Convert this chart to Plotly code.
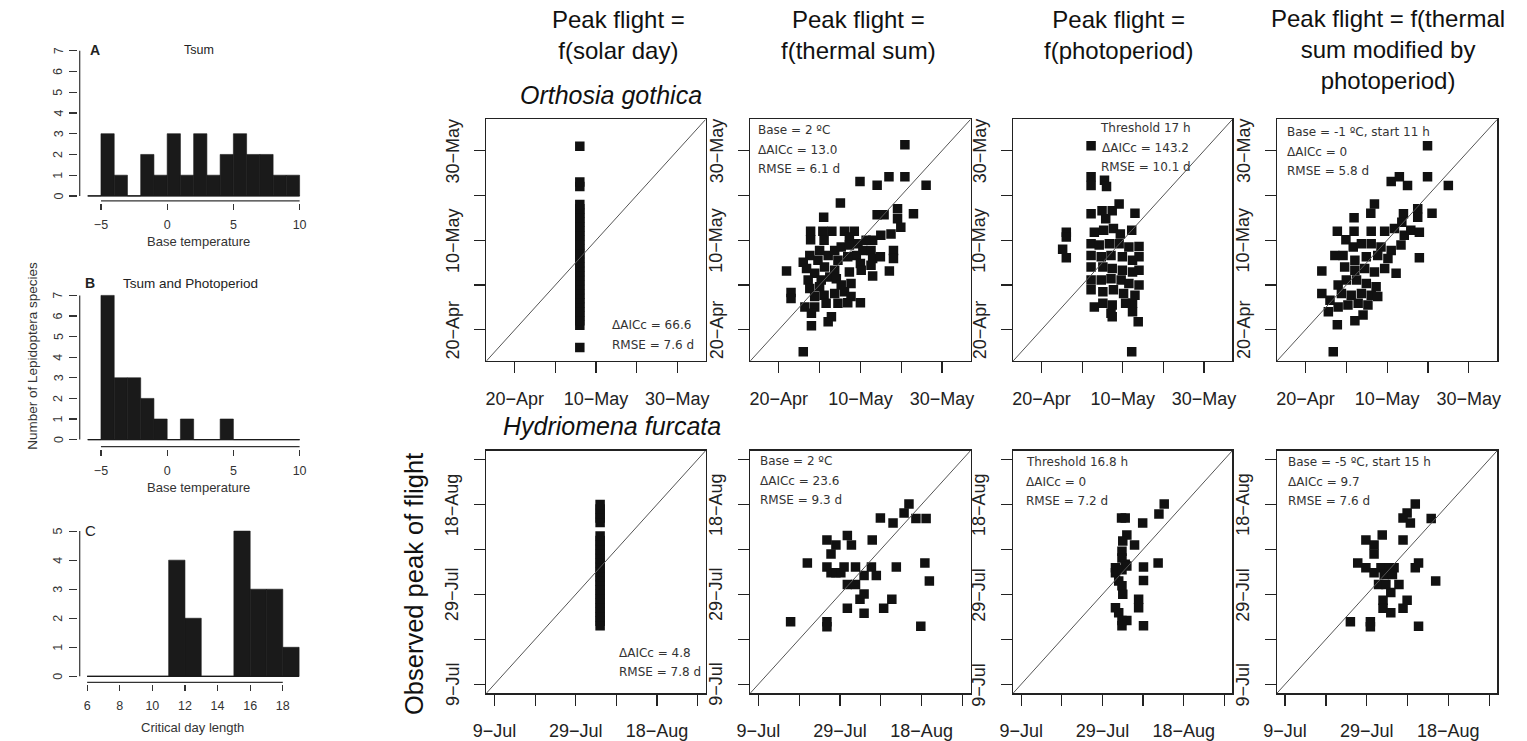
import plotly.graph_objects as go

W, H = 1527, 741

# ---------------- data ----------------
# Histograms: bin edges and counts (number of Lepidoptera species)
tsum_edges = [-6, -5, -4, -3, -2, -1, 0, 1, 2, 3, 4, 5, 6, 7, 8, 9, 10]
tsum_counts = [0, 3, 1, 0, 2, 1, 3, 1, 3, 1, 2, 3, 2, 2, 1, 1]
tsph_edges = [-6, -5, -4, -3, -2, -1, 0, 1, 2, 3, 4, 5, 6, 7, 8, 9, 10]
tsph_counts = [0, 7, 3, 3, 2, 1, 0, 1, 0, 0, 1, 0, 0, 0, 0, 0]
daylen_edges = [6, 7, 8, 9, 10, 11, 12, 13, 14, 15, 16, 17, 18, 19]
daylen_counts = [0, 0, 0, 0, 0, 4, 2, 0, 0, 5, 3, 3, 1]

temp_xticks = [-5, 0, 5, 10]
count7_yticks = [0, 1, 2, 3, 4, 5, 6, 7]
daylen_xticks = [6, 8, 10, 12, 14, 16, 18]
count5_yticks = [0, 1, 2, 3, 4, 5]

# day-of-year ticks
spring_ticks = [110, 120, 130, 140, 150]
spring_labels = ["20\u2212Apr", "", "10\u2212May", "", "30\u2212May"]
summer_ticks = [190, 200, 210, 220, 230, 240]
summer_labels = ["9\u2212Jul", "", "29\u2212Jul", "", "18\u2212Aug", ""]

# Orthosia gothica: (predicted, observed) day of year
og_solar = [(126, 106), (126, 111), (126, 112), (126, 113), (126, 114), (126, 115), (126, 116),
            (126, 117), (126, 118), (126, 119), (126, 120), (126, 121), (126, 122), (126, 123),
            (126, 124), (126, 125), (126, 126), (126, 127), (126, 128), (126, 129), (126, 130),
            (126, 131), (126, 132), (126, 133), (126, 134), (126, 135), (126, 136), (126, 137),
            (126, 138), (126, 142), (126, 143), (126, 151)]
og_tsum = [(140.9, 151.3), (129.9, 143.1), (134.1, 142.3), (137.0, 144.2), (140.9, 144.2),
           (146.1, 142.3), (125.1, 138.3), (121.0, 135.1), (143.0, 135.9), (134.1, 135.7),
           (135.8, 135.7), (139.1, 137.0), (139.1, 134.8), (139.9, 132.9), (137.5, 131.4),
           (135.0, 131.1), (133.0, 130.0), (131.4, 130.0), (117.8, 132.0), (117.8, 130.1),
           (120.8, 132.0), (121.1, 130.0), (123.0, 132.0), (126.1, 132.0), (128.5, 132.0),
           (127.3, 130.7), (117.6, 126.6), (116.0, 125.1), (119.6, 125.5), (122.1, 126.6),
           (123.7, 127.7), (125.3, 128.5), (127.3, 128.9), (129.4, 129.2), (130.6, 127.7),
           (132.6, 127.7), (129.0, 126.6), (126.9, 126.3), (124.5, 125.5), (130.0, 124.8),
           (133.0, 125.9), (134.9, 126.3), (138.1, 127.7), (138.1, 125.9), (132.6, 124.4),
           (130.2, 123.3), (127.3, 122.9), (123.7, 123.3), (121.2, 124.0), (118.8, 122.6),
           (117.2, 121.1), (120.4, 121.1), (122.5, 121.8), (133.0, 122.0), (137.1, 123.1),
           (111.9, 123.1), (117.6, 119.2), (120.0, 119.6), (124.1, 121.4), (125.3, 120.0),
           (127.7, 120.3), (118.8, 117.4), (121.1, 117.7), (123.7, 118.1), (126.1, 118.5),
           (127.7, 117.4), (130.0, 116.0), (113.0, 118.3), (113.0, 117.0), (116.4, 115.1),
           (118.8, 115.1), (121.6, 115.9), (124.5, 115.9), (126.9, 116.0), (118.0, 113.7),
           (122.9, 112.9), (122.1, 111.8), (118.0, 110.9), (116.0, 105.1), (120.0, 127.7),
           (116.8, 123.7)]
og_photo = [(122.2, 151.1), (122.2, 144.2), (122.2, 142.2), (125.5, 143.4), (126.0, 142.0),
            (129.1, 138.1), (133.0, 136.0), (116.1, 131.8), (116.1, 130.7), (115.2, 128.0),
            (116.1, 126.1), (132.2, 132.2), (134.0, 128.6), (134.0, 126.3), (134.0, 123.3),
            (134.0, 120.0), (132.4, 115.9), (132.4, 114.0), (133.8, 111.8), (132.2, 105.1),
            (123.0, 115.1), (127.1, 113.7), (122.2, 135.9), (124.9, 136.6), (127.4, 136.6),
            (125.8, 134.8), (123.0, 131.8), (125.3, 132.2), (127.7, 132.6), (129.4, 131.4),
            (122.2, 129.2), (124.2, 128.9), (126.7, 129.2), (129.1, 129.2), (131.5, 128.5),
            (122.2, 126.6), (124.7, 126.3), (127.1, 126.6), (129.9, 126.3), (132.4, 125.5),
            (122.2, 124.0), (125.1, 124.0), (127.4, 123.7), (129.9, 123.3), (132.4, 122.9),
            (122.2, 121.1), (124.7, 121.1), (127.1, 121.4), (129.6, 121.1), (131.5, 120.3),
            (122.2, 118.9), (125.1, 118.5), (127.7, 118.9), (130.2, 118.1), (133.0, 117.7),
            (125.1, 115.9), (127.4, 115.5), (130.7, 115.9), (127.4, 112.9)]
og_tsph = [(139.9, 151.1), (139.9, 144.2), (131.0, 143.1), (133.0, 144.2), (135.0, 142.2),
           (145.0, 142.2), (126.9, 138.1), (126.0, 136.0), (121.9, 135.0), (134.0, 135.9),
           (137.5, 137.0), (137.5, 135.1), (141.0, 136.0), (117.8, 132.0), (119.9, 130.1),
           (121.9, 132.0), (137.9, 126.1), (114.0, 123.1), (117.8, 111.1), (116.8, 105.1),
           (126.1, 132.0), (129.4, 132.0), (131.8, 132.6), (133.6, 134.0), (134.2, 131.1),
           (135.8, 132.2), (137.9, 131.8), (117.2, 126.6), (119.2, 126.6), (121.7, 128.5),
           (123.7, 129.2), (126.1, 129.2), (128.5, 128.5), (131.0, 127.7), (133.4, 128.9),
           (127.7, 126.6), (130.2, 125.9), (124.9, 126.3), (122.1, 125.5), (119.6, 124.0),
           (122.1, 123.3), (124.5, 123.7), (126.9, 122.9), (129.4, 123.7), (132.2, 122.6),
           (120.0, 121.1), (122.5, 121.1), (124.9, 120.3), (127.3, 119.6), (118.0, 120.0),
           (114.0, 118.1), (116.0, 116.6), (118.8, 118.1), (121.2, 117.7), (123.7, 118.1),
           (126.1, 117.7), (127.7, 117.4), (115.6, 114.0), (118.0, 115.1), (120.4, 115.5),
           (122.9, 115.9), (125.3, 115.5), (122.1, 112.0), (124.1, 113.3)]

# Hydriomena furcata: (predicted, observed) day of year
hf_solar = [(216, 203), (216, 204), (216, 205), (216, 206), (216, 207), (216, 208), (216, 209),
            (216, 210), (216, 211), (216, 212), (216, 213), (216, 214), (216, 215), (216, 216),
            (216, 217), (216, 218), (216, 219), (216, 220), (216, 221), (216, 222), (216, 223),
            (216, 226), (216, 227), (216, 228), (216, 229), (216, 230)]
hf_tsum = [(226.9, 230.1), (225.7, 228.1), (219.9, 227.0), (223.0, 225.9), (228.6, 226.9),
           (231.1, 226.9), (206.8, 222.1), (209.0, 221.0), (207.8, 219.0), (211.8, 223.1),
           (212.8, 221.0), (217.9, 222.1), (202.0, 217.0), (206.8, 216.1), (207.8, 214.8),
           (209.0, 214.8), (210.2, 214.8), (211.0, 216.1), (213.8, 216.1), (217.7, 216.1),
           (218.9, 214.2), (215.9, 214.2), (223.8, 216.1), (230.8, 217.0), (231.9, 213.0),
           (211.8, 212.2), (213.8, 212.2), (214.9, 208.9), (215.9, 210.1), (222.7, 208.9),
           (220.7, 206.9), (211.8, 206.9), (215.9, 205.8), (197.9, 203.9), (206.8, 203.9),
           (206.8, 202.8), (229.8, 202.9)]
hf_photo = [(225.2, 230.1), (223.9, 227.9), (214.7, 227.0), (215.6, 227.0), (219.9, 225.9),
            (216.0, 223.2), (215.0, 221.9), (217.9, 221.0), (214.8, 219.6), (214.8, 218.1),
            (215.6, 216.7), (213.2, 215.9), (213.2, 214.8), (214.8, 215.5), (216.0, 216.3),
            (223.7, 217.0), (220.1, 216.1), (220.1, 213.1), (214.0, 213.0), (214.8, 211.9),
            (215.0, 210.0), (218.9, 208.9), (218.9, 207.0), (213.2, 207.0), (214.0, 205.9),
            (214.8, 204.2), (216.0, 204.2), (214.8, 203.0), (220.1, 203.0)]
hf_tsph = [(221.9, 230.1), (219.9, 228.1), (218.9, 227.0), (220.7, 225.9), (225.8, 226.9),
           (213.8, 223.2), (209.8, 222.1), (211.8, 221.0), (211.8, 219.0), (218.9, 222.1),
           (207.8, 217.0), (209.8, 215.9), (211.8, 214.8), (213.5, 215.9), (215.5, 215.9),
           (216.7, 215.9), (214.3, 214.4), (216.3, 214.4), (222.7, 217.0), (221.9, 215.9),
           (226.9, 213.0), (212.9, 212.2), (214.7, 212.2), (217.9, 212.2), (215.9, 210.4),
           (214.0, 208.7), (214.0, 206.9), (215.9, 205.9), (218.9, 206.9), (219.9, 208.7),
           (206.0, 203.9), (210.9, 203.9), (210.9, 202.8), (222.7, 202.9)]

headers = ["Peak flight =<br>f(solar day)", "Peak flight =<br>f(thermal sum)",
           "Peak flight =<br>f(photoperiod)",
           "Peak flight = f(thermal<br>sum modified by<br>photoperiod)"]
og_texts = [["\u0394AICc = 66.6", "RMSE = 7.6 d"],
            ["Base = 2 \u00baC", "\u0394AICc = 13.0", "RMSE = 6.1 d"],
            ["Threshold 17 h", "\u0394AICc = 143.2", "RMSE = 10.1 d"],
            ["Base = -1 \u00baC, start 11 h", "\u0394AICc = 0", "RMSE = 5.8 d"]]
hf_texts = [["\u0394AICc = 4.8", "RMSE = 7.8 d"],
            ["Base = 2 \u00baC", "\u0394AICc = 23.6", "RMSE = 9.3 d"],
            ["Threshold 16.8 h", "\u0394AICc = 0", "RMSE = 7.2 d"],
            ["Base = -5 \u00baC, start 15 h", "\u0394AICc = 9.7", "RMSE = 7.6 d"]]

# ---------------- helpers ----------------
INK = "#1a1a1a"
TICKFONT = "Liberation Sans, Arial, sans-serif"
TEXTFONT = "DejaVu Sans, Open Sans, sans-serif"
PSIZE = 12

fig = go.Figure()
axes = {}


def lin(p, pa, va, pb, vb):
    return va + (p - pa) * (vb - va) / (pb - pa)


def suffix(n):
    return "" if n == 1 else str(n)


def dom_x(x0, x1):
    return [x0 / W, x1 / W]


def dom_y(top, bottom):
    return [1 - bottom / H, 1 - top / H]


def ann(text, xpx, ypx, size, xanchor="center", yanchor="middle", angle=0,
        color="#222", family=TICKFONT):
    fig.add_annotation(text=text, x=xpx / W, y=1 - ypx / H, xref="paper", yref="paper",
                       showarrow=False, xanchor=xanchor, yanchor=yanchor, textangle=angle,
                       font=dict(size=size, color=color, family=family))


def ytick_labels(s, xpx, vals, labels, size, color):
    # rotated (R style, las=0) y tick labels placed on the axis scale
    for v, t in zip(vals, labels):
        if t == "":
            continue
        fig.add_annotation(text=t, x=xpx / W, y=v, xref="paper", yref="y" + s,
                           showarrow=False, xanchor="center", yanchor="middle",
                           textangle=-90, font=dict(size=size, color=color, family=TICKFONT))


def add_hist(n, edges, counts, xticks, yticks, xdom, ydom, xref, yref, axis_px, yline_px):
    s = suffix(n)
    xr = [lin(xdom[0], *xref), lin(xdom[1], *xref)]
    yr = [lin(ydom[1], *yref), lin(ydom[0], *yref)]
    centers = [(edges[i] + edges[i + 1]) / 2 for i in range(len(counts))]
    widths = [edges[i + 1] - edges[i] for i in range(len(counts))]
    fig.add_trace(go.Bar(x=centers, y=counts, width=widths,
                         marker=dict(color=INK, line=dict(color=INK, width=0.6)),
                         xaxis="x" + s, yaxis="y" + s, hoverinfo="skip"))
    # zero baseline across all bins
    fig.add_trace(go.Scatter(x=[edges[0], edges[-1]], y=[0, 0], mode="lines",
                             line=dict(color=INK, width=1.3), xaxis="x" + s, yaxis="y" + s))
    # detached x axis line (R style)
    ya = lin(axis_px, *yref)
    fig.add_trace(go.Scatter(x=[xticks[0], xticks[-1]], y=[ya, ya], mode="lines",
                             line=dict(color="#333", width=1.2), xaxis="x" + s, yaxis="y" + s))
    xa = lin(yline_px, *xref)
    fig.add_trace(go.Scatter(x=[xa, xa], y=[yticks[0], yticks[-1]], mode="lines",
                             line=dict(color="#333", width=1.2), xaxis="x" + s, yaxis="y" + s))
    axes["xaxis" + s] = dict(domain=dom_x(*xdom), range=xr, anchor="y" + s, showgrid=False,
                             zeroline=False, showline=False, ticks="outside", ticklen=6,
                             tickwidth=1.2, tickcolor="#333", tickvals=xticks, tickangle=0,
                             tickfont=dict(size=12.5, color="#333", family=TICKFONT),
                             ticklabelstandoff=4)
    axes["yaxis" + s] = dict(domain=dom_y(*ydom), range=yr, anchor="x" + s, showgrid=False,
                             zeroline=False, showline=False, ticks="outside", ticklen=8,
                             tickwidth=1.2, tickcolor="#333", tickvals=yticks,
                             showticklabels=False)
    ytick_labels(s, 45, yticks, [str(v) for v in yticks], 12.5, "#333")


def add_panel(n, pts, xdom, ydom, rng, tickvals, ticktext):
    s = suffix(n)
    xs = [p[0] for p in pts]
    ys = [p[1] for p in pts]
    fig.add_trace(go.Scatter(x=xs, y=ys, mode="markers",
                             marker=dict(symbol="square", size=9.5, color="#111",
                                         line=dict(width=0)),
                             xaxis="x" + s, yaxis="y" + s, hoverinfo="skip"))
    fig.add_trace(go.Scatter(x=rng, y=rng, mode="lines", line=dict(color="#555", width=1),
                             xaxis="x" + s, yaxis="y" + s, hoverinfo="skip"))
    common = dict(range=rng, showgrid=False, zeroline=False, showline=True, mirror=True,
                  linecolor="#222", linewidth=1.3, ticks="outside", ticklen=11,
                  tickwidth=1.2, tickcolor="#222", tickvals=tickvals)
    axes["xaxis" + s] = dict(domain=dom_x(*xdom), anchor="y" + s, tickangle=0,
                             ticktext=ticktext, ticklabelstandoff=10,
                             tickfont=dict(size=18, color="#222", family=TICKFONT), **common)
    axes["yaxis" + s] = dict(domain=dom_y(*ydom), anchor="x" + s, showticklabels=False,
                             **common)
    ytick_labels(s, xdom[0] - 34, tickvals, ticktext, 18, "#222")


# ---------------- histograms ----------------
add_hist(1, tsum_edges, tsum_counts, temp_xticks, count7_yticks,
         (65, 292), (47, 204), (88, -5, 289, 10), (197, 0, 51, 7), 202, 66.5)
add_hist(2, tsph_edges, tsph_counts, temp_xticks, count7_yticks,
         (65, 292), (292, 451), (88, -5, 289, 10), (442, 0, 297, 7), 449, 66.5)
add_hist(3, daylen_edges, daylen_counts, daylen_xticks, count5_yticks,
         (65, 292), (530, 688), (74, 6, 272, 18), (680, 0, 534, 5), 686, 66.5)

ann("<b>A</b>", 82, 50, 14)
ann("Tsum", 187, 50, 12.5)
ann("<b>B</b>", 77, 285, 14)
ann("Tsum and Photoperiod", 179, 285, 13.5)
ann("C", 77, 533, 15)
ann("Base temperature", 187, 243, 13, color="#333")
ann("Base temperature", 187, 490, 13, color="#333")
ann("Critical day length", 181, 731, 13, color="#333")
ann("Number of Lepidoptera species", 18, 358, 13.5, angle=-90, color="#333")

# ---------------- scatter panels ----------------
cols = [(478, 700), (745, 968), (1011, 1233), (1278, 1501)]
top_y = (120, 363)
bot_y = (453, 697)
spring_range = [103, 157]
summer_range = [188, 242]

for i, pts in enumerate([og_solar, og_tsum, og_photo, og_tsph]):
    add_panel(4 + i, pts, cols[i], top_y, spring_range, spring_ticks, spring_labels)
for i, pts in enumerate([hf_solar, hf_tsum, hf_photo, hf_tsph]):
    add_panel(8 + i, pts, cols[i], bot_y, summer_range, summer_ticks, summer_labels)

# column headers
for cx, cy, txt in zip([612, 855, 1118, 1390], [35, 35, 35, 50], headers):
    ann(txt, cx, cy, 24, color="#111")

ann("<i>Orthosia gothica</i>", 604, 96, 25, color="#111")
ann("<i>Hydriomena furcata</i>", 605, 428, 25, color="#111")
ann("Observed peak of flight", 405, 587, 25.5, angle=-90, color="#111")

# in-panel statistics
line_gap = 19.5
ann(og_texts[0][0], 603, 327, PSIZE, xanchor="left", family=TEXTFONT, color="#333")
ann(og_texts[0][1], 603, 347, PSIZE, xanchor="left", family=TEXTFONT, color="#333")
for j, t in enumerate(og_texts[1]):
    ann(t, 751, 131 + j * line_gap, PSIZE, xanchor="left", family=TEXTFONT, color="#333")
for j, t in enumerate(og_texts[2]):
    ann(t, 1145, 129 + j * line_gap, PSIZE, xanchor="center", family=TEXTFONT, color="#333")
for j, t in enumerate(og_texts[3]):
    ann(t, 1286, 133 + j * line_gap, PSIZE, xanchor="left", family=TEXTFONT, color="#333")

ann(hf_texts[0][0], 610, 657, PSIZE, xanchor="left", family=TEXTFONT, color="#333")
ann(hf_texts[0][1], 610, 676, PSIZE, xanchor="left", family=TEXTFONT, color="#333")
for j, t in enumerate(hf_texts[1]):
    ann(t, 753, 464 + j * line_gap, PSIZE, xanchor="left", family=TEXTFONT, color="#333")
for j, t in enumerate(hf_texts[2]):
    ann(t, 1022, 465 + j * line_gap, PSIZE, xanchor="left", family=TEXTFONT, color="#333")
for j, t in enumerate(hf_texts[3]):
    ann(t, 1287, 465 + j * line_gap, PSIZE, xanchor="left", family=TEXTFONT, color="#333")

fig.update_layout(width=W, height=H, margin=dict(l=0, r=0, t=0, b=0),
                  paper_bgcolor="white", plot_bgcolor="white", showlegend=False,
                  bargap=0, hovermode=False, **axes)

# remove the browser's default 8px body margin so the figure sits at the page origin
fig.write_html("out.html", config={"displayModeBar": False, "staticPlot": True},
               post_script="document.body.style.margin='0';document.body.style.overflow='hidden';")
